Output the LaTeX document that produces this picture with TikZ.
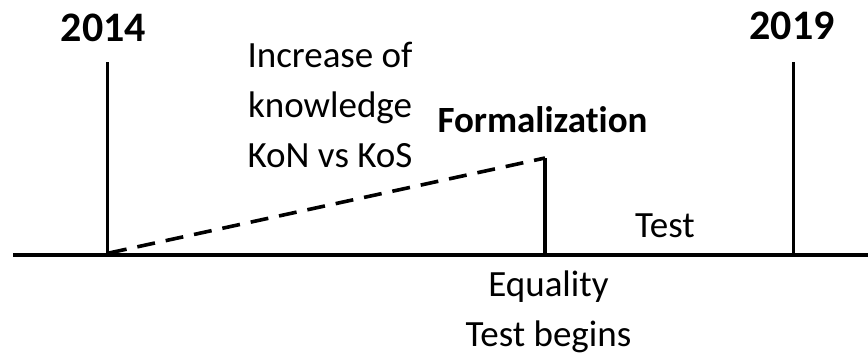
\documentclass[tikz,border=0pt]{standalone}
\usepackage{fontspec}
\setmainfont{Carlito}[Ligatures=NoCommon]
\begin{document}
\begin{tikzpicture}[x=1pt,y=-1pt,
  lbl/.style={inner sep=0pt,anchor=base,font=\fontsize{37}{50}\selectfont,align=center},
  boldlbl/.style={lbl,font=\fontsize{37}{50}\selectfont\bfseries},
  yearlbl/.style={lbl,font=\fontsize{42}{50}\selectfont\bfseries},
  axisline/.style={line width=3.6pt},
  dashline/.style={line width=3.6pt,dash pattern=on 18pt off 11pt}]
\useasboundingbox (0,0) rectangle (868,353);
% coordinates
\coordinate (axL) at (13,255);
\coordinate (axR) at (868,255);
\coordinate (b14) at (107.5,255);
\coordinate (t14) at (107.5,62);
\coordinate (b19) at (793.5,255);
\coordinate (t19) at (793.5,62);
\coordinate (bF) at (545,255);
\coordinate (tF) at (545,158);
\coordinate (dS) at (109,253);
% lines
\draw[axisline] (axL) -- (axR);
\draw[axisline] (b14) -- (t14);
\draw[axisline] (b19) -- (t19);
\draw[axisline] (bF) -- (tF);
\draw[dashline] (dS) -- (tF);
% labels
\node[yearlbl] (y14) at (103.5,42) {2014};
\node[yearlbl] (y19) at (792,40) {2019};
\node[lbl] (inc) at (330,167) {Increase of\\knowledge\\KoN vs KoS};
\node[boldlbl] (form) at (542.5,132) {Formalization};
\node[lbl] (test) at (665,237) {Test};
\node[lbl] (eq) at (548.5,346) {Equality\\Test begins};
\end{tikzpicture}
\end{document}
